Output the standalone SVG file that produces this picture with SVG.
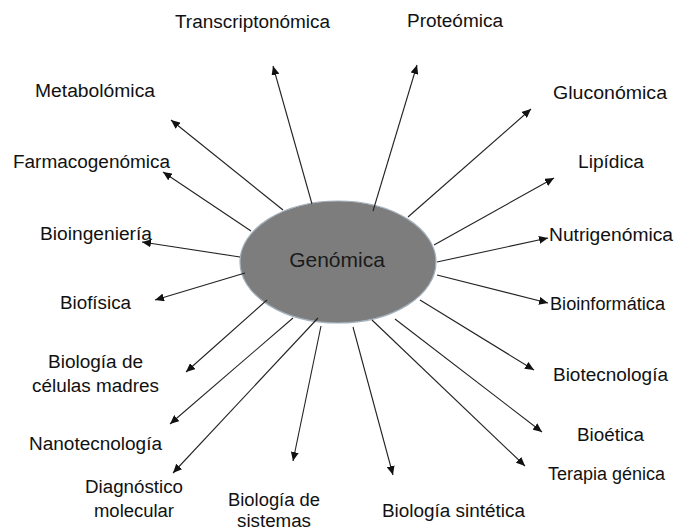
<svg xmlns="http://www.w3.org/2000/svg" width="674" height="531" viewBox="0 0 674 531">
<defs>
<marker id="ah" markerUnits="userSpaceOnUse" markerWidth="10" markerHeight="8" refX="9" refY="4" orient="auto">
<path d="M0,0 L9,4 L0,8 z" fill="#111"/>
</marker>
<style>
.lbl{font-family:"Liberation Sans",Arial,sans-serif;font-size:18px;fill:#111;}
.ctr{font-family:"Liberation Sans",Arial,sans-serif;font-size:21px;fill:#1a1a1a;text-anchor:middle;}
.c line{stroke:#222;stroke-width:1.1;marker-end:url(#ah);}
</style>
</defs>
<rect width="674" height="531" fill="#fff"/>
<g id="genomica">
<ellipse cx="338" cy="262" rx="98" ry="61" fill="#7d7d7d" stroke="#a3b0bc" stroke-width="1.2"/>
<text class="ctr" x="337" y="267">Genómica</text>
</g>
<g id="connectors" class="c">
<line x1="312" y1="204" x2="273" y2="66"/>
<line x1="373" y1="211" x2="417" y2="65"/>
<line x1="283" y1="210" x2="171" y2="120"/>
<line x1="408" y1="217" x2="531" y2="109"/>
<line x1="251" y1="231" x2="163" y2="172"/>
<line x1="434" y1="245" x2="554" y2="178"/>
<line x1="240" y1="257" x2="142" y2="242"/>
<line x1="437" y1="262" x2="548" y2="238"/>
<line x1="245" y1="273" x2="155" y2="300"/>
<line x1="437" y1="275" x2="548" y2="303"/>
<line x1="267" y1="300" x2="186" y2="372"/>
<line x1="420" y1="300" x2="534" y2="370"/>
<line x1="293" y1="318" x2="170" y2="424"/>
<line x1="395" y1="319" x2="542" y2="432"/>
<line x1="318" y1="318" x2="173" y2="473"/>
<line x1="372" y1="320" x2="525" y2="466"/>
<line x1="321" y1="326" x2="293" y2="461"/>
<line x1="353" y1="327" x2="393" y2="475"/>
</g>
<g id="transcriptonomica"><text class="lbl" x="175" y="28" textLength="155" lengthAdjust="spacingAndGlyphs">Transcriptonómica</text></g>
<g id="proteomica"><text class="lbl" x="407" y="27" textLength="96" lengthAdjust="spacingAndGlyphs">Proteómica</text></g>
<g id="metabolomica"><text class="lbl" x="35" y="97" textLength="120" lengthAdjust="spacingAndGlyphs">Metabolómica</text></g>
<g id="gluconomica"><text class="lbl" x="553" y="99" textLength="114" lengthAdjust="spacingAndGlyphs">Gluconómica</text></g>
<g id="farmacogenomica"><text class="lbl" x="13" y="168" textLength="157" lengthAdjust="spacingAndGlyphs">Farmacogenómica</text></g>
<g id="lipidica"><text class="lbl" x="578" y="168" textLength="66" lengthAdjust="spacingAndGlyphs">Lipídica</text></g>
<g id="bioingenieria"><text class="lbl" x="40" y="240" textLength="112" lengthAdjust="spacingAndGlyphs">Bioingeniería</text></g>
<g id="nutrigenomica"><text class="lbl" x="549" y="241" textLength="124" lengthAdjust="spacingAndGlyphs">Nutrigenómica</text></g>
<g id="biofisica"><text class="lbl" x="60" y="309" textLength="71" lengthAdjust="spacingAndGlyphs">Biofísica</text></g>
<g id="bioinformatica"><text class="lbl" x="550" y="310" textLength="115" lengthAdjust="spacingAndGlyphs">Bioinformática</text></g>
<g id="celulas-madres"><text class="lbl" x="48" y="368" textLength="95" lengthAdjust="spacingAndGlyphs">Biología de</text><text class="lbl" x="32" y="392" textLength="127" lengthAdjust="spacingAndGlyphs">células madres</text></g>
<g id="biotecnologia"><text class="lbl" x="553" y="381" textLength="115" lengthAdjust="spacingAndGlyphs">Biotecnología</text></g>
<g id="nanotecnologia"><text class="lbl" x="29" y="450" textLength="133" lengthAdjust="spacingAndGlyphs">Nanotecnología</text></g>
<g id="bioetica"><text class="lbl" x="577" y="441" textLength="67" lengthAdjust="spacingAndGlyphs">Bioética</text></g>
<g id="diagnostico"><text class="lbl" x="85" y="493" textLength="98" lengthAdjust="spacingAndGlyphs">Diagnóstico</text><text class="lbl" x="94" y="517" textLength="80" lengthAdjust="spacingAndGlyphs">molecular</text></g>
<g id="terapia"><text class="lbl" x="548" y="480" textLength="117" lengthAdjust="spacingAndGlyphs">Terapia génica</text></g>
<g id="sistemas"><text class="lbl" x="228" y="506" textLength="92" lengthAdjust="spacingAndGlyphs">Biología de</text><text class="lbl" x="237" y="527" textLength="74" lengthAdjust="spacingAndGlyphs">sistemas</text></g>
<g id="sintetica"><text class="lbl" x="382" y="517" textLength="143" lengthAdjust="spacingAndGlyphs">Biología sintética</text></g>
</svg>
